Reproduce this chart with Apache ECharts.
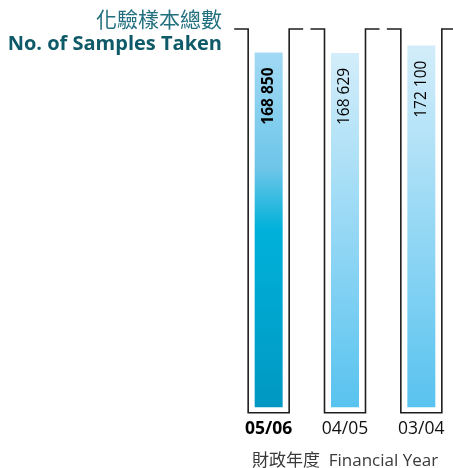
<!DOCTYPE html>
<html><head><meta charset="utf-8">
<script src="https://cdn.jsdelivr.net/npm/echarts@6/dist/echarts.min.js"></script>
<style>html,body{margin:0;padding:0;background:#fff}#c{width:453px;height:468px}</style>
</head><body><div id="c"></div>
<script>
const categories = ['05/06', '04/05', '03/04'];
const samples = [168850, 168629, 172100];
const axisMax = 180000;
const titleZh = '化驗樣本總數';
const titleEn = 'No. of Samples Taken';
const axisName = '財政年度  Financial Year';

function fmt(v){ return String(v).replace(/\B(?=(\d{3})+(?!\d))/g, ' '); }

const grad = (stops) => ({type:'linear', x:0, y:0, x2:0, y2:1, colorStops: stops});
const currentGrad = grad([{offset:0,color:'#a2d9f4'},{offset:0.33,color:'#6cc5e8'},{offset:0.5,color:'#00b1d9'},{offset:1,color:'#0098c3'}]);
const pastGrad = grad([{offset:0,color:'#d3edfa'},{offset:1,color:'#58c3ef'}]);

const chart = echarts.init(document.getElementById('c'), null, {renderer:'canvas'});
const FONT = '"Open Sans", "Noto Sans CJK TC", sans-serif';

chart.setOption({
  animation:false,
  grid:{left:230.5, top:29, width:229, height:378.3, containLabel:false, outerBoundsMode:'none'},
  xAxis:{
    type:'category', data:categories,
    axisLine:{show:false}, axisTick:{show:false},
    axisLabel:{
      interval:0, margin:13, fontFamily:FONT, fontSize:17, color:'#111',
      formatter:(v,i)=> i===0 ? '{b|'+v+'}' : '{n|'+v+'}',
      rich:{b:{fontWeight:'bold',fontSize:17.5,fontFamily:FONT,color:'#000'}, n:{fontSize:17.5,fontFamily:FONT,color:'#111'}}
    },
    name:axisName, nameLocation:'middle', nameGap:45,
    nameTextStyle:{fontFamily:FONT, fontSize:17, color:'#3a3a3a'}
  },
  yAxis:{type:'value', min:0, max:axisMax, show:false, splitLine:{show:false}},
  series:[
    {
      type:'custom',
      data:categories.map((c,i)=>[i]),
      renderItem:(params, api)=>{
        const i = api.value(0);
        const b = api.coord([i,0]);
        const t = api.coord([i,axisMax]);
        const cx = b[0], top = t[1], bot = b[1]+5.5;
        return {type:'polyline', shape:{points:[[cx-34.5,top],[cx-20.5,top],[cx-20.5,bot],[cx+20.5,bot],[cx+20.5,top],[cx+34.5,top]]},
          style:{stroke:'#1e1e1e', lineWidth:1.6, fill:null}};
      },
      z:1, silent:true
    },
    {
      type:'bar', barWidth:28, z:2,
      data:samples.map((v,i)=>({value:v, itemStyle:{color: i===0 ? currentGrad : pastGrad},
        label:{fontWeight: i===0 ? 'bold' : 'normal'}})),
      label:{show:true, position:'insideTop', distance:15, rotate:90, align:'right', verticalAlign:'middle',
        fontFamily:FONT, fontSize:15.5, color:'#000', formatter:(p)=>fmt(p.value)}
    }
  ],
  graphic:[
    {type:'text', right:231, top:9, style:{text:titleZh, font:'21px "Noto Sans CJK TC", sans-serif', fill:'#22707f', textAlign:'right'}},
    {type:'text', right:231, top:34, style:{text:titleEn, font:'bold 20px "Open Sans", sans-serif', fill:'#0e5a68', textAlign:'right'}}
  ]
});
</script></body></html>
